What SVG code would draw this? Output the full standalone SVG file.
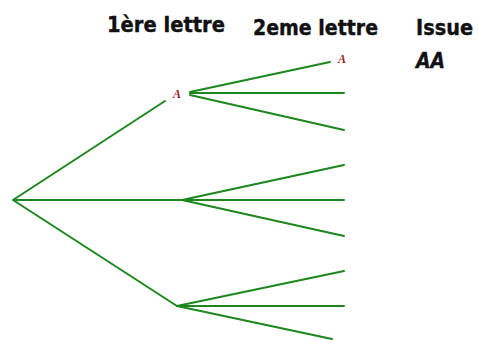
<svg xmlns="http://www.w3.org/2000/svg" width="478" height="340" viewBox="0 0 478 340">
<style>
.e{stroke:#1c871c;stroke-width:2;fill:none;stroke-linecap:round}
.h{font-family:"Comic Sans MS","DejaVu Sans",sans-serif;font-weight:bold;font-size:21px;fill:#111;stroke:#111;stroke-width:0.4}
.s{font-family:"Liberation Serif",serif;font-style:italic;font-weight:bold;font-size:12px;fill:#9b1b1b}
</style>
<rect width="478" height="340" fill="#fff"/>
<g id="headers">
<text class="h" x="107" y="32" textLength="118" lengthAdjust="spacingAndGlyphs">1ère lettre</text>
<text class="h" x="253" y="35" textLength="125" lengthAdjust="spacingAndGlyphs">2eme lettre</text>
<text class="h" x="416" y="35" textLength="57" lengthAdjust="spacingAndGlyphs">Issue</text>
<text class="h" x="416" y="68" textLength="29" lengthAdjust="spacingAndGlyphs" font-style="italic">AA</text>
</g>
<g id="connectors">
<path class="e" d="M13 200L165 101M13 200L182 200M13 200L177 306"/>
<path class="e" d="M190 92L330 62M190 93L344 93M190 95L344 130"/>
<path class="e" d="M182 200L344 165M182 200L344 200M182 200L344 236"/>
<path class="e" d="M177 306L344 271M177 306L344 306M177 306L332 339"/>
</g>
<g id="n1A"><text class="s" x="173" y="98">A</text></g>
<g id="n2A"><text class="s" x="338" y="63">A</text></g>
</svg>
